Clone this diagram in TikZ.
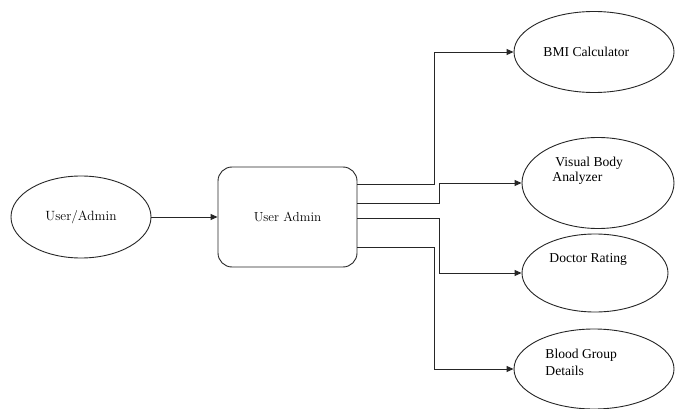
\documentclass[tikz,border=0pt]{standalone}
\usepackage{fontspec}
\setmainfont{Liberation Serif}
\newfontfamily\lmr{Latin Modern Roman}
\usetikzlibrary{shapes.geometric,arrows.meta}
\begin{document}
\begin{tikzpicture}[x=1pt,y=-1pt,
  line width=0.9pt,
  oval/.style={draw=black!85,ellipse,inner sep=0pt},
  lbl/.style={anchor=west,inner sep=0pt,font=\fontsize{13.6}{15}\selectfont},
  arr/.style={draw=black!85,-{Triangle[length=7pt,width=6pt]}},
  wire/.style={draw=black!85}]
\useasboundingbox[fill=white] (0,0) rectangle (675,409);
\node[oval,minimum width=140pt,minimum height=82pt,font=\lmr\fontsize{13.4}{15}\selectfont] (src) at (81,217) {User/Admin};
\node[draw=black!85,rounded corners=14pt,minimum width=139pt,minimum height=100pt,inner sep=0pt,font=\lmr\fontsize{13.1}{15}\selectfont] (ua) at (287.5,217) {User Admin};
\node[oval,minimum width=160pt,minimum height=81pt] (bmi) at (594,52) {};
\node[oval,minimum width=152pt,minimum height=91pt] (vba) at (598,183) {};
\node[oval,minimum width=146pt,minimum height=78pt] (doc) at (595,273) {};
\node[oval,minimum width=160pt,minimum height=80pt] (bgd) at (594,369) {};
\node[lbl] (tbmi) at (543,52) {BMI Calculator};
\node[lbl] (tvba1) at (555,163) {Visual Body};
\node[lbl] (tvba2) at (552,178) {Analyzer};
\node[lbl] (tdoc) at (549,259) {Doctor Rating};
\node[lbl] (tbgd1) at (545,355) {Blood Group};
\node[lbl] (tbgd2) at (545,371) {Details};
\coordinate (ja) at (434,0);
\coordinate (jb) at (439,0);
\draw[arr] (src.east) -- (ua.west);
\draw[arr] ([yshift=33pt]ua.east) -| (ja |- bmi.west) -- (bmi.west);
\draw[arr] ([yshift=14pt]ua.east) -| (jb |- vba.west) -- (vba.west);
\draw[arr] ([yshift=-1pt]ua.east) -| (jb |- doc.west) -- (doc.west);
\draw[arr] ([yshift=-30pt]ua.east) -| (ja |- bgd.west) -- (bgd.west);
\end{tikzpicture}
\end{document}
